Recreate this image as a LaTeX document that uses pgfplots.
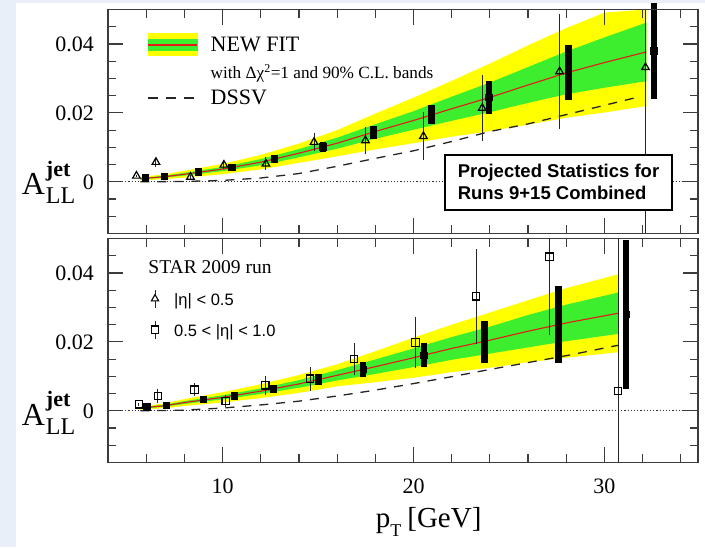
\documentclass[border=0pt]{standalone}
\usepackage{fontspec}
\setmainfont{Liberation Serif}
\newfontfamily\arialfont{Liberation Sans}
\usepackage{pgfplots}
\usepackage{pgfplotstable}
\usepgfplotslibrary{fillbetween}
\pgfplotsset{compat=1.18}
\definecolor{bgblue}{RGB}{232,239,249}
\definecolor{bandgreen}{RGB}{60,238,45}
\definecolor{bandyellow}{RGB}{255,255,0}
\definecolor{fitred}{RGB}{230,25,25}
\definecolor{framegray}{RGB}{60,60,60}

% ---------- top panel (|eta|<0.5) ----------
\pgfplotstableread{
x line yel grn
5.7 0.0009 0.0005 0.0002
7 0.0015 0.0007 0.0003
8 0.0022 0.0010 0.0004
10 0.0037 0.0015 0.0006
12 0.0057 0.0021 0.0009
14 0.0083 0.0028 0.0012
16 0.0112 0.0038 0.0016
18 0.0146 0.0052 0.0021
20 0.0178 0.0066 0.0027
22 0.0212 0.0081 0.0035
24 0.0245 0.0098 0.0043
26 0.0281 0.0115 0.0052
28 0.0316 0.0130 0.0062
30 0.0346 0.0145 0.0073
32.2 0.0377 0.0157 0.0085
}\topfit
\pgfplotstableread{
x y
5.7 0.0000
8 0.0001
10 0.0004
12 0.0011
14 0.0024
16 0.0045
18 0.0068
20 0.0090
22 0.0117
24 0.0146
26 0.0168
28 0.0195
30 0.0222
31.7 0.0245
}\topdssv
\pgfplotstableread{
x y ep em
5.49 0.0017 0.0004 0.0004
6.51 0.0057 0.0013 0.0013
8.32 0.0014 0.0005 0.0005
10.07 0.0049 0.0012 0.0012
12.27 0.0052 0.0019 0.0019
14.79 0.0115 0.0027 0.0027
17.48 0.0120 0.0039 0.0039
20.52 0.0132 0.0070 0.0070
23.60 0.0214 0.0097 0.0097
27.65 0.0320 0.0167 0.0167
32.15 0.0332 0.0168 0.0482
}\topstar
\pgfplotstableread{
x y e
5.97 0.0011 0
6.96 0.0015 0
8.73 0.0028 0
10.49 0.0041 0
12.73 0.0066 0.0011
15.26 0.0101 0.00135
17.90 0.0144 0.0019
20.94 0.0194 0.00275
23.96 0.0245 0.0047
28.12 0.0318 0.0080
32.60 0.0380 0.0140
}\topproj

% ---------- bottom panel (0.5<|eta|<1.0) ----------
\pgfplotstableread{
x line yel grn
5.7 0.0008 0.0005 0.0002
7 0.0015 0.0007 0.0003
8 0.0024 0.0010 0.0004
10 0.0039 0.0015 0.0006
12 0.0057 0.0020 0.0008
14 0.0078 0.0026 0.0011
16 0.0103 0.0032 0.0015
18 0.0128 0.0045 0.0021
20 0.0154 0.0058 0.0027
22 0.0181 0.0069 0.0033
24 0.0205 0.0080 0.0039
26 0.0231 0.0090 0.0047
28 0.0255 0.0101 0.0053
30.7 0.0283 0.0113 0.0060
}\botfit
\pgfplotstableread{
x y
5.7 0.0000
8 0.0002
10 0.0008
12 0.0017
14 0.0028
16 0.0043
18 0.0060
20 0.0079
22 0.0099
24 0.0120
26 0.0140
28 0.0160
30.7 0.0190
}\botdssv
\pgfplotstableread{
x y ep em
5.62 0.0019 0.0005 0.0005
6.61 0.0043 0.0019 0.0019
8.53 0.0061 0.0019 0.0019
10.16 0.0029 0.0017 0.0017
12.24 0.0074 0.0027 0.0027
14.58 0.0093 0.0035 0.0035
16.89 0.0150 0.0047 0.0047
20.10 0.0198 0.0075 0.0075
23.28 0.0332 0.0137 0.0137
27.12 0.0447 0.0053 0.0227
30.71 0.0058 0.0442 0.0208
}\botstar
\pgfplotstableread{
x y e
6.05 0.0011 0
7.05 0.0016 0
8.99 0.0033 0
10.63 0.0043 0
12.66 0.0063 0.0011
15.02 0.0091 0.00155
17.37 0.0120 0.0021
20.55 0.0161 0.0035
23.72 0.0201 0.0061
27.60 0.0251 0.0111
31.14 0.0280 0.0217
}\botproj

\pgfplotsset{
  panel/.style={
    scale only axis, width=590pt, height=224pt,
    xmin=4, xmax=34.9, ymin=-0.015, ymax=0.05,
    xtick={10,20,30},
    minor xtick={6,8,12,14,16,18,22,24,26,28,32,34},
    ytick={0,0.02,0.04}, yticklabels={0,0.02,0.04},
    scaled y ticks=false, scaled x ticks=false,
    minor ytick={-0.01,-0.005,0.005,0.01,0.015,0.025,0.03,0.035,0.045},
    major tick length=15pt, minor tick length=8pt,
    every tick/.style={framegray, line width=1.2pt},
    axis line style={framegray, line width=1.3pt},
    tick label style={font=\fontsize{22}{22}\selectfont},
    /pgf/number format/assume math mode=true,
    yticklabel style={anchor=east, inner sep=0pt, xshift=-14pt},
    xticklabel style={anchor=base, inner sep=0pt, yshift=-31pt},
    clip=false, axis on top,
  },
  yellowband/.style={fill=bandyellow, draw=none, forget plot},
  greenband/.style={fill=bandgreen, draw=none, forget plot},
  fitline/.style={fitred, line width=1.1pt, forget plot},
  dssvline/.style={black!85, line width=1.3pt, dash pattern=on 9pt off 8pt, forget plot},
  zeroline/.style={black!80, line width=1pt, dash pattern=on 1.2pt off 2pt, forget plot},
  projbars/.style={only marks, mark=square*, mark size=3.2pt,
    mark options={fill=black, draw=black, line width=0pt}, forget plot,
    error bars/y dir=both, error bars/y explicit, error bars/error mark=none,
    error bars/error bar style={line width=6.4pt, black}},
  stardata/.style={only marks, mark options={draw=black, line width=1.2pt, fill=none}, forget plot,
    error bars/y dir=both, error bars/y explicit, error bars/error mark=none,
    error bars/error bar style={line width=0.9pt, black!85}},
}

\newcommand{\ALL}{{\fontsize{32}{32}\selectfont A}\hspace{1pt}\rlap{\raisebox{18.3pt}{\fontsize{22}{22}\selectfont\bfseries jet}}\raisebox{-9pt}{\fontsize{24}{24}\selectfont LL}}

\begin{document}
\begin{tikzpicture}
\fill[bgblue] (0pt,0pt) rectangle (705pt,547pt);
\fill[white] (16pt,0pt) rectangle (705pt,543.5pt);

% ================= TOP PANEL =================
\begin{axis}[panel, at={(108pt,313.5pt)}, anchor=south west, xticklabels={},
  legend cell align=left,
  legend style={draw=none, fill=none, at={(0.0656,0.893)}, anchor=north west,
    inner sep=0pt, outer sep=0pt, row sep=4.5pt, column sep=13pt,
    nodes={inner sep=0pt, text height=18pt, text depth=4pt, font=\fontsize{22}{22}\selectfont}},
]
\addplot[name path=tyu, draw=none, forget plot] table[x=x, y expr={min(\thisrow{line}+\thisrow{yel},0.05)}] {\topfit};
\addplot[name path=tyl, draw=none, forget plot] table[x=x, y expr={\thisrow{line}-\thisrow{yel}}] {\topfit};
\addplot[yellowband] fill between[of=tyu and tyl, on layer=main];
\addplot[name path=tgu, draw=none, forget plot] table[x=x, y expr={\thisrow{line}+\thisrow{grn}}] {\topfit};
\addplot[name path=tgl, draw=none, forget plot] table[x=x, y expr={\thisrow{line}-\thisrow{grn}}] {\topfit};
\addplot[greenband] fill between[of=tgu and tgl, on layer=main];
\addplot[fitline] table[x=x, y=line] {\topfit};
\addplot[zeroline] coordinates {(4.9,0) (34.3,0)};
\addplot[dssvline] table[x=x, y=y] {\topdssv};
\addplot[mark=triangle, mark size=4.4pt, stardata] table[x=x, y=y, y error plus=ep, y error minus=em] {\topstar};
\addplot[projbars] table[x=x, y=y, y error=e] {\topproj};

\addlegendimage{legend image code/.code={
  \fill[bandyellow] (0pt,-11pt) rectangle (49pt,11pt);
  \fill[bandgreen] (0pt,-5.8pt) rectangle (49pt,5.8pt);
  \draw[fitred, line width=2pt] (0pt,0pt) -- (49pt,0pt);}}
\addlegendentry{NEW FIT}
\addlegendimage{empty legend}
\addlegendentry{\fontsize{17.2}{17.2}\selectfont with Δχ\textsuperscript{2}=1 and 90\% C.L. bands}
\addlegendimage{legend image code/.code={
  \draw[black!85, line width=1.3pt, dash pattern=on 10pt off 8pt] (0pt,0pt) -- (48pt,0pt);}}
\addlegendentry{DSSV}

\node[anchor=base west, inner sep=0pt] at (rel axis cs:-0.1463,0.172) {\ALL};
\node[draw=black, line width=2pt, fill=white, anchor=north west,
  minimum width=226.4pt, minimum height=54.7pt, align=left,
  font=\arialfont\bfseries\fontsize{18.5}{22}\selectfont]
  at (rel axis cs:0.570,0.355) {Projected Statistics for\\Runs 9+15 Combined};
\end{axis}

% ================= BOTTOM PANEL =================
\begin{axis}[panel, at={(108pt,84.5pt)}, anchor=south west, xticklabels={10,20,30},
  legend cell align=left,
  legend style={draw=none, fill=none, at={(0.0734,0.773)}, anchor=north west,
    inner sep=0pt, outer sep=0pt, row sep=12pt, column sep=15.5pt,
    nodes={inner sep=0pt, text height=15.8pt, text depth=2.2pt, font=\arialfont\fontsize{16.5}{16.5}\selectfont}},
]
\addplot[name path=byu, draw=none, forget plot] table[x=x, y expr={min(\thisrow{line}+\thisrow{yel},0.05)}] {\botfit};
\addplot[name path=byl, draw=none, forget plot] table[x=x, y expr={\thisrow{line}-\thisrow{yel}}] {\botfit};
\addplot[yellowband] fill between[of=byu and byl, on layer=main];
\addplot[name path=bgu, draw=none, forget plot] table[x=x, y expr={\thisrow{line}+\thisrow{grn}}] {\botfit};
\addplot[name path=bgl, draw=none, forget plot] table[x=x, y expr={\thisrow{line}-\thisrow{grn}}] {\botfit};
\addplot[greenband] fill between[of=bgu and bgl, on layer=main];
\addplot[fitline] table[x=x, y=line] {\botfit};
\addplot[zeroline] coordinates {(4.9,0) (34.3,0)};
\addplot[dssvline] table[x=x, y=y] {\botdssv};
\addplot[mark=square, mark size=3.7pt, stardata] table[x=x, y=y, y error plus=ep, y error minus=em] {\botstar};
\addplot[projbars] table[x=x, y=y, y error=e] {\botproj};

\addlegendimage{legend image code/.code={
  \draw[black!85, line width=0.9pt] (0pt,-9pt) -- (0pt,9pt);
  \path plot[mark=triangle*, mark size=4.2pt, mark options={draw=black, fill=white, line width=1.1pt}] coordinates {(0pt,0pt)};}}
\addlegendentry{|η| < 0.5}
\addlegendimage{legend image code/.code={
  \draw[black!85, line width=0.9pt] (0pt,-9pt) -- (0pt,9pt);
  \path plot[mark=square*, mark size=3.7pt, mark options={draw=black, fill=white, line width=1.1pt}] coordinates {(0pt,0pt)};}}
\addlegendentry{0.5 < |η| < 1.0}

\node[anchor=base west, inner sep=0pt, font=\fontsize{19.5}{19.5}\selectfont] at (rel axis cs:0.0683,0.845) {STAR 2009 run};
\node[anchor=base west, inner sep=0pt] at (rel axis cs:-0.1463,0.167) {\ALL};
\node[anchor=base west, inner sep=0pt, font=\fontsize{29}{29}\selectfont, yshift=-65pt] at (rel axis cs:0.4537,0) {p\raisebox{-8.5pt}{\fontsize{18}{18}\selectfont T}\hspace{6pt}[GeV]};
\end{axis}
\pgfresetboundingbox
\path[use as bounding box] (0pt,0pt) rectangle (705pt,547pt);
\end{tikzpicture}
\end{document}
